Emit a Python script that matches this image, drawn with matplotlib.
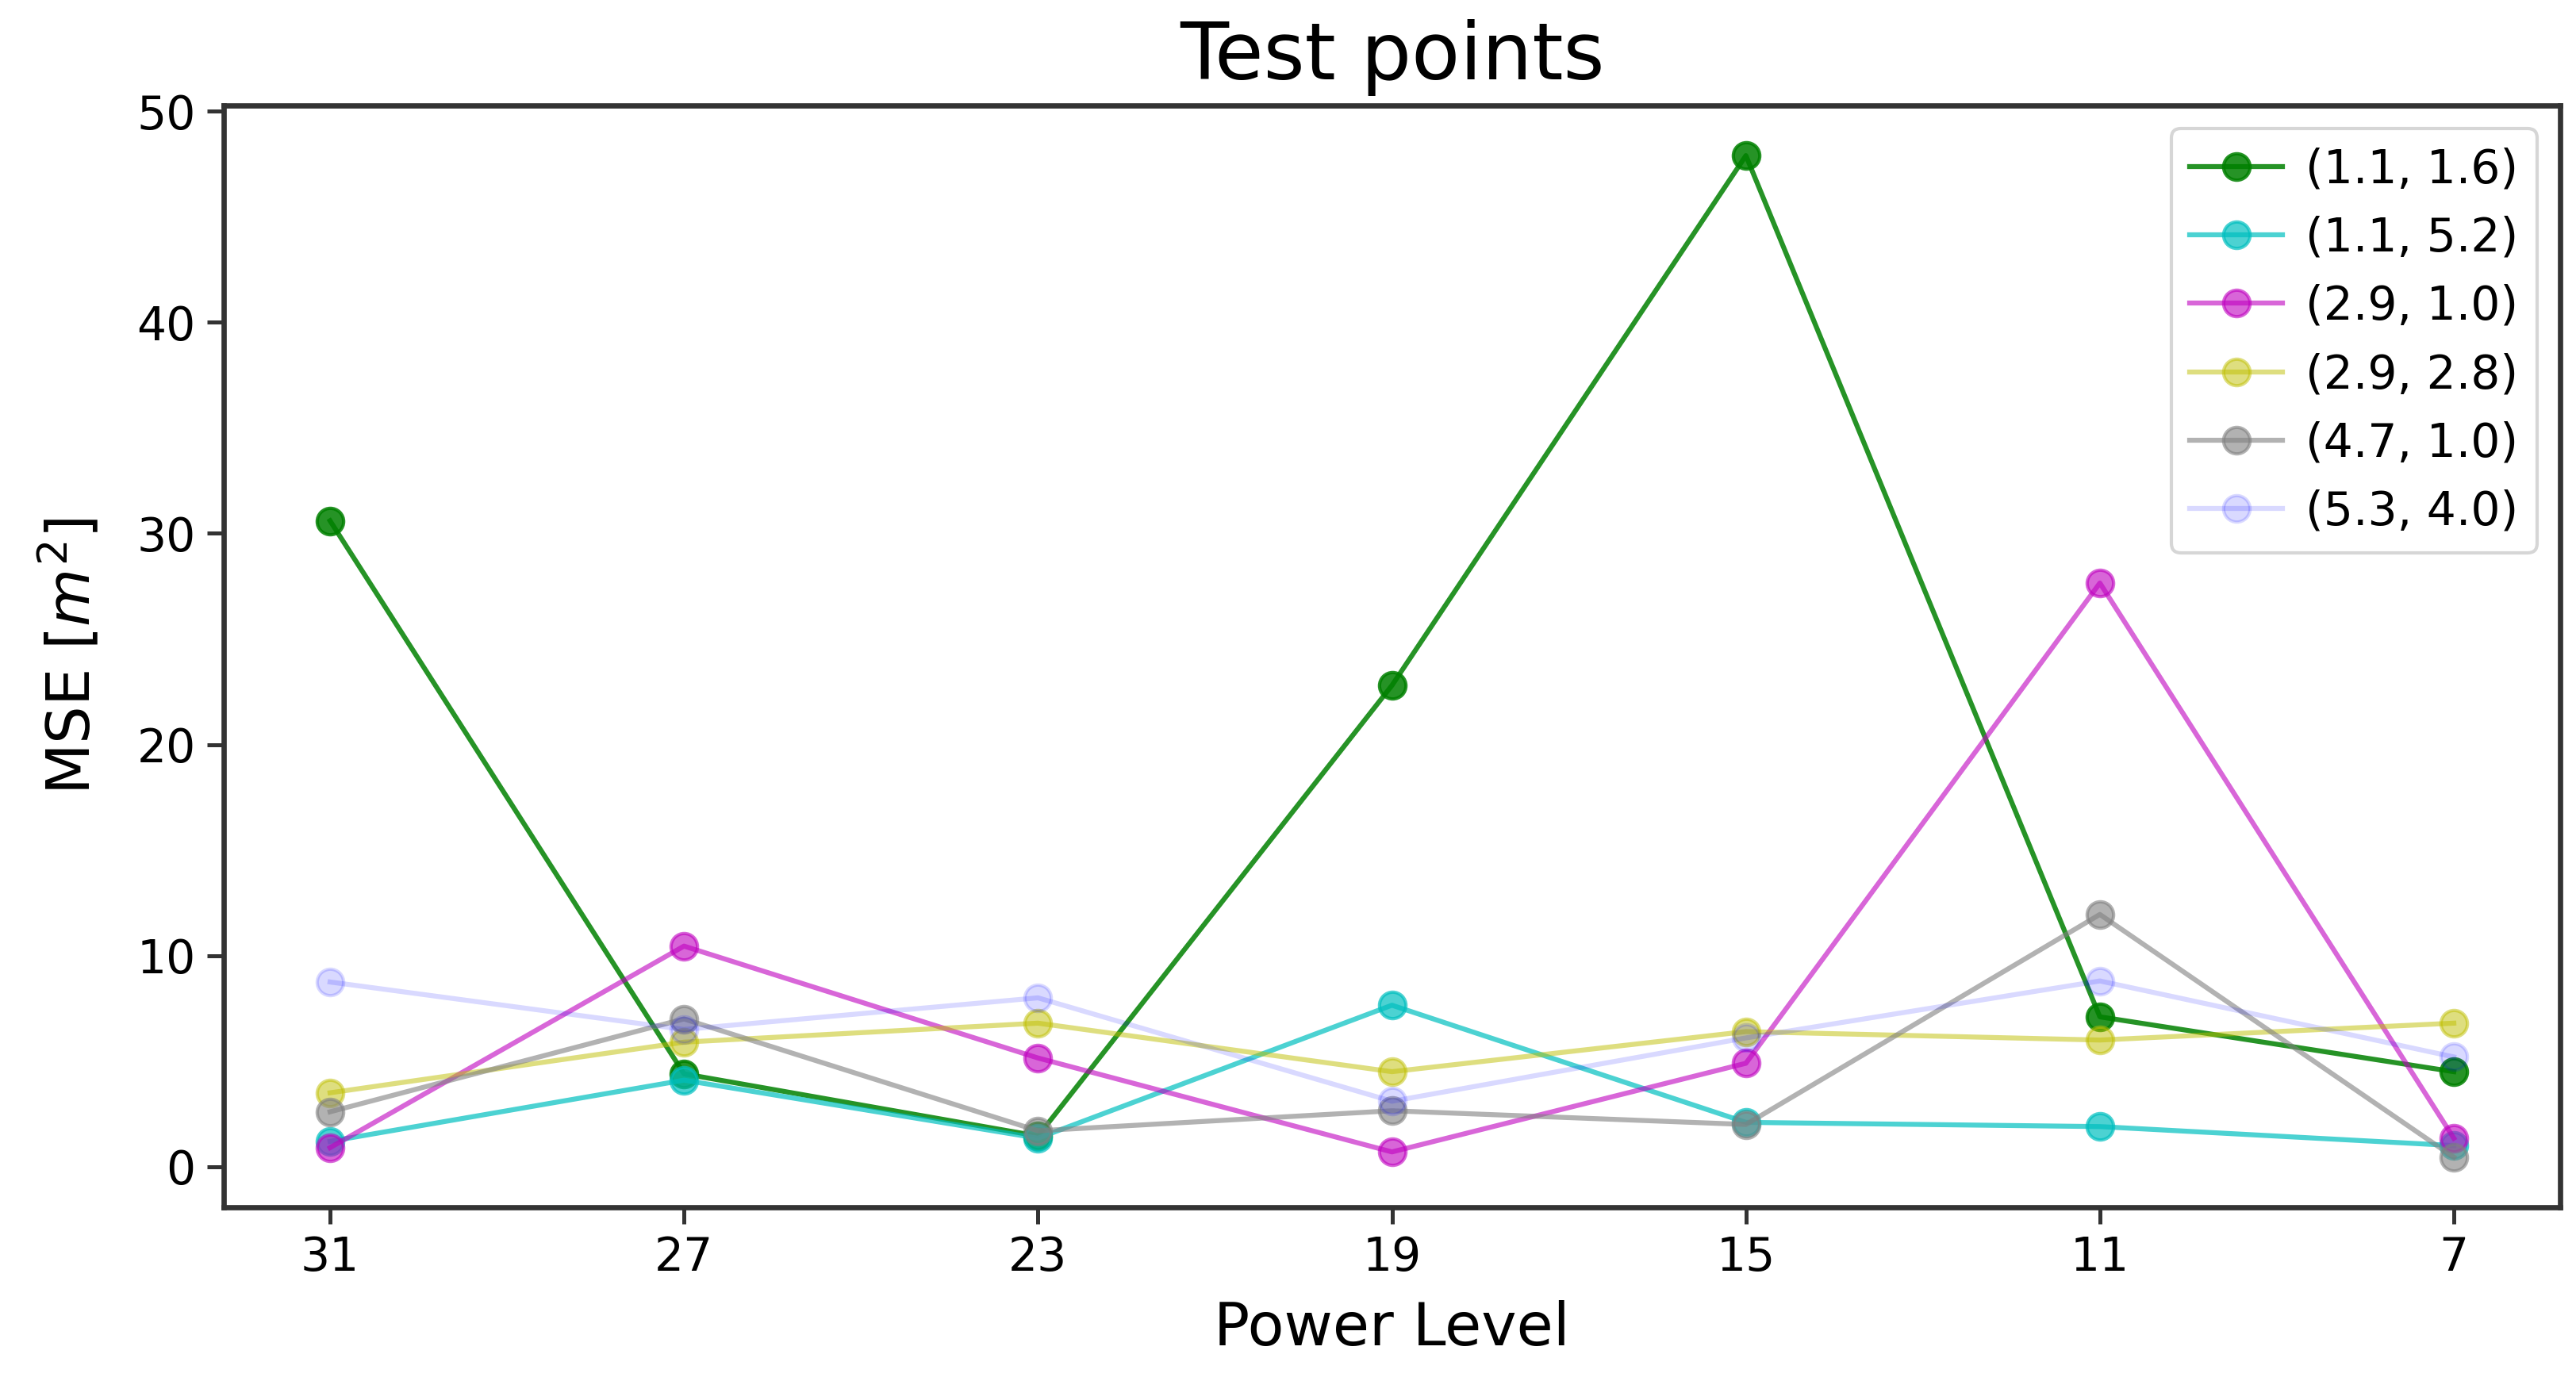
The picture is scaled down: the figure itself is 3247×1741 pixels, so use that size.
import numpy as np
import matplotlib
matplotlib.use("Agg")
import matplotlib.pyplot as plt

# power levels on the x axis (categorical, descending)
power_levels = ["31", "27", "23", "19", "15", "11", "7"]

# test point labels
labels = ["(1.1, 1.6)", "(1.1, 5.2)", "(2.9, 1.0)", "(2.9, 2.8)", "(4.7, 1.0)", "(5.3, 4.0)"]

# MSE per test point
mse_11_16 = [30.6, 4.4, 1.45, 22.8, 47.9, 7.1, 4.5]
mse_11_52 = [1.2, 4.1, 1.35, 7.65, 2.1, 1.9, 1.0]
mse_29_10 = [0.9, 10.45, 5.15, 0.7, 4.9, 27.65, 1.35]
mse_29_28 = [3.5, 5.9, 6.8, 4.5, 6.4, 6.0, 6.8]
mse_47_10 = [2.6, 7.0, 1.7, 2.65, 2.0, 11.95, 0.45]
mse_53_40 = [8.75, 6.5, 8.0, 3.1, 6.1, 8.8, 5.2]

series = [mse_11_16, mse_11_52, mse_29_10, mse_29_28, mse_47_10, mse_53_40]
colors = ["g", "c", "m", "y", "gray", "b"]
alphas = [0.85, 0.7, 0.6, 0.5, 0.6, 0.15]

fig = plt.figure(figsize=(3247 / 300, 1741 / 300), dpi=300)
ax = fig.add_axes([0.0869, 0.1258, 0.9069, 0.7978])

x = np.arange(len(power_levels))
for y, lab, c, a in zip(series, labels, colors, alphas):
    ax.plot(x, y, "-o", color=c, alpha=a, label=lab, linewidth=1.5, markersize=8)

ax.set_xticks(x)
ax.set_xticklabels(power_levels)
ax.set_yticks([0, 10, 20, 30, 40, 50])
ax.tick_params(labelsize=14, length=5, width=1.2, color="0.2")
for s in ax.spines.values():
    s.set_color("0.2")
    s.set_linewidth(1.6)

ax.set_title("Test points", fontsize=24, pad=8)
ax.set_xlabel("Power Level", fontsize=18, labelpad=6)
ax.set_ylabel("MSE [$m^2$]", fontsize=18, labelpad=10)
ax.legend(loc="upper right", fontsize=14, handletextpad=0.5)

fig.savefig("out.png", dpi=300)
